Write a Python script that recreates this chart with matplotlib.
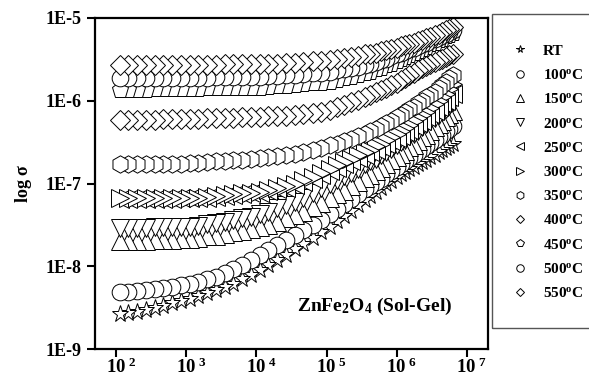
import numpy as np
import matplotlib
matplotlib.use("Agg")
import matplotlib.pyplot as plt
from matplotlib.patches import Rectangle
from matplotlib.ticker import FixedLocator, NullLocator

plt.rcParams['font.family'] = ['Liberation Serif', 'DejaVu Serif']
plt.rcParams['font.weight'] = 'bold'
plt.rcParams['mathtext.fontset'] = 'custom'
plt.rcParams['mathtext.rm'] = 'Liberation Serif:bold'
plt.rcParams['mathtext.bf'] = 'Liberation Serif:bold'
plt.rcParams['mathtext.it'] = 'Liberation Serif:bold'

# --- log10 of frequency (Hz) ---
log_f = [2.05, 2.17, 2.30, 2.42, 2.55, 2.67, 2.80, 2.92, 3.05, 3.17,
         3.30, 3.42, 3.55, 3.67, 3.80, 3.92, 4.05, 4.17, 4.30, 4.42,
         4.55, 4.67, 4.80, 4.92, 5.05, 5.15, 5.25, 5.35, 5.45, 5.55,
         5.62, 5.70, 5.77, 5.85, 5.92, 6.00, 6.06, 6.12, 6.18, 6.24,
         6.30, 6.36, 6.42, 6.48, 6.54, 6.60, 6.65, 6.70, 6.75, 6.80]

# --- log10 of conductivity for each temperature ---
s_rt = [-8.58, -8.57, -8.55, -8.53, -8.51, -8.48, -8.45, -8.42, -8.39, -8.36,
        -8.32, -8.29, -8.25, -8.21, -8.16, -8.11, -8.05, -7.99, -7.93, -7.86,
        -7.79, -7.73, -7.66, -7.59, -7.52, -7.45, -7.39, -7.33, -7.26, -7.20,
        -7.15, -7.10, -7.06, -7.01, -6.97, -6.92, -6.89, -6.86, -6.83, -6.80,
        -6.77, -6.74, -6.71, -6.68, -6.65, -6.62, -6.60, -6.57, -6.55, -6.52]
s_100 = [-8.31, -8.31, -8.30, -8.29, -8.28, -8.26, -8.25, -8.23, -8.21, -8.19,
         -8.16, -8.13, -8.08, -8.03, -7.98, -7.92, -7.86, -7.80, -7.74, -7.68,
         -7.62, -7.56, -7.50, -7.44, -7.37, -7.31, -7.25, -7.19, -7.13, -7.07,
         -7.03, -6.98, -6.94, -6.89, -6.85, -6.80, -6.76, -6.73, -6.69, -6.66,
         -6.62, -6.58, -6.55, -6.51, -6.48, -6.44, -6.41, -6.37, -6.34, -6.30]
s_150 = [-7.69, -7.69, -7.69, -7.69, -7.68, -7.68, -7.68, -7.67, -7.67, -7.66,
         -7.64, -7.63, -7.61, -7.59, -7.57, -7.55, -7.53, -7.50, -7.46, -7.42,
         -7.38, -7.34, -7.29, -7.23, -7.18, -7.13, -7.09, -7.03, -6.98, -6.93,
         -6.90, -6.85, -6.81, -6.77, -6.72, -6.68, -6.64, -6.61, -6.56, -6.53,
         -6.49, -6.44, -6.41, -6.37, -6.32, -6.28, -6.24, -6.20, -6.16, -6.12]
s_200 = [-7.54, -7.54, -7.54, -7.54, -7.53, -7.53, -7.53, -7.52, -7.52, -7.51,
         -7.49, -7.48, -7.46, -7.44, -7.42, -7.40, -7.37, -7.34, -7.30, -7.26,
         -7.22, -7.17, -7.12, -7.06, -7.01, -6.96, -6.91, -6.87, -6.82, -6.77,
         -6.73, -6.70, -6.66, -6.62, -6.58, -6.54, -6.50, -6.47, -6.43, -6.40,
         -6.36, -6.32, -6.28, -6.25, -6.21, -6.17, -6.13, -6.10, -6.06, -6.02]
s_250 = [-7.19, -7.19, -7.19, -7.19, -7.19, -7.19, -7.19, -7.18, -7.18, -7.18,
         -7.17, -7.16, -7.15, -7.14, -7.13, -7.12, -7.11, -7.09, -7.07, -7.05,
         -7.02, -6.98, -6.94, -6.90, -6.85, -6.81, -6.77, -6.73, -6.69, -6.65,
         -6.62, -6.59, -6.56, -6.52, -6.49, -6.45, -6.42, -6.38, -6.35, -6.31,
         -6.27, -6.24, -6.20, -6.16, -6.12, -6.07, -6.03, -6.00, -5.96, -5.92]
s_300 = [-7.18, -7.18, -7.18, -7.18, -7.18, -7.18, -7.18, -7.17, -7.17, -7.17,
         -7.16, -7.15, -7.14, -7.13, -7.12, -7.11, -7.10, -7.08, -7.06, -7.03,
         -7.00, -6.96, -6.92, -6.87, -6.82, -6.78, -6.74, -6.70, -6.66, -6.62,
         -6.59, -6.55, -6.52, -6.48, -6.44, -6.40, -6.37, -6.33, -6.29, -6.25,
         -6.21, -6.17, -6.13, -6.09, -6.04, -6.00, -5.96, -5.92, -5.86, -5.80]
s_350 = [-6.77, -6.77, -6.77, -6.77, -6.76, -6.76, -6.76, -6.76, -6.75, -6.75,
         -6.74, -6.73, -6.73, -6.72, -6.71, -6.70, -6.69, -6.68, -6.67, -6.66,
         -6.64, -6.62, -6.60, -6.57, -6.54, -6.52, -6.49, -6.46, -6.43, -6.40,
         -6.37, -6.34, -6.31, -6.27, -6.24, -6.20, -6.17, -6.14, -6.10, -6.07,
         -6.03, -6.00, -5.96, -5.93, -5.89, -5.84, -5.81, -5.77, -5.73, -5.69]
s_400 = [-6.23, -6.23, -6.23, -6.23, -6.23, -6.22, -6.22, -6.22, -6.22, -6.22,
         -6.21, -6.21, -6.21, -6.21, -6.20, -6.20, -6.20, -6.19, -6.19, -6.18,
         -6.17, -6.16, -6.15, -6.13, -6.11, -6.08, -6.05, -6.02, -5.99, -5.96,
         -5.93, -5.90, -5.87, -5.84, -5.81, -5.78, -5.75, -5.72, -5.69, -5.66,
         -5.63, -5.60, -5.58, -5.55, -5.53, -5.51, -5.49, -5.47, -5.45, -5.43]
s_450 = [-5.87, -5.87, -5.87, -5.87, -5.86, -5.86, -5.86, -5.86, -5.86, -5.86,
         -5.85, -5.85, -5.85, -5.85, -5.84, -5.84, -5.84, -5.83, -5.82, -5.82,
         -5.81, -5.80, -5.79, -5.78, -5.77, -5.75, -5.73, -5.71, -5.69, -5.67,
         -5.65, -5.62, -5.60, -5.57, -5.55, -5.52, -5.50, -5.47, -5.45, -5.42,
         -5.40, -5.37, -5.35, -5.32, -5.30, -5.27, -5.25, -5.22, -5.20, -5.18]
s_500 = [-5.72, -5.72, -5.72, -5.72, -5.72, -5.72, -5.72, -5.72, -5.72, -5.72,
         -5.72, -5.71, -5.71, -5.71, -5.71, -5.71, -5.71, -5.70, -5.70, -5.69,
         -5.69, -5.68, -5.67, -5.66, -5.65, -5.63, -5.62, -5.60, -5.59, -5.57,
         -5.55, -5.53, -5.51, -5.49, -5.46, -5.44, -5.42, -5.40, -5.38, -5.36,
         -5.34, -5.32, -5.30, -5.27, -5.25, -5.23, -5.21, -5.19, -5.17, -5.15]
s_550 = [-5.57, -5.57, -5.57, -5.57, -5.57, -5.57, -5.57, -5.57, -5.57, -5.57,
         -5.57, -5.57, -5.56, -5.56, -5.56, -5.56, -5.56, -5.55, -5.55, -5.54,
         -5.54, -5.53, -5.52, -5.52, -5.51, -5.50, -5.48, -5.47, -5.46, -5.44,
         -5.43, -5.42, -5.40, -5.39, -5.37, -5.36, -5.34, -5.33, -5.31, -5.30,
         -5.28, -5.26, -5.24, -5.23, -5.21, -5.19, -5.17, -5.15, -5.13, -5.11]

labels = ['RT', r'100$^{o}$C', r'150$^{o}$C', r'200$^{o}$C', r'250$^{o}$C',
          r'300$^{o}$C', r'350$^{o}$C', r'400$^{o}$C', r'450$^{o}$C',
          r'500$^{o}$C', r'550$^{o}$C']
series = [s_rt, s_100, s_150, s_200, s_250, s_300, s_350, s_400, s_450, s_500, s_550]
markers = ['*', 'o', '^', 'v', '<', '>', 'h', 'D', 'p', 'o', 'D']
sizes = [12.5, 12, 12.5, 12.5, 12.5, 12.5, 12.5, 10, 12.5, 12, 10]

freq = 10.0 ** np.array(log_f)

fig = plt.figure(figsize=(5.89, 3.80), dpi=100)
ax = fig.add_axes([95/589, 31/380, 393/589, 331/380])

for s, m, ms, lab in zip(series, markers, sizes, labels):
    sig = 10.0 ** np.array(s)
    # draw high -> low frequency so low-frequency markers sit on top
    ax.plot(freq[::-1], sig[::-1], linestyle='none', marker=m, markersize=ms,
            markerfacecolor='white', markeredgecolor='black',
            markeredgewidth=0.7, label=lab)

ax.set_xscale('log')
ax.set_yscale('log')
ax.set_xlim(10**1.7, 10**7.3)
ax.set_ylim(1e-9, 1e-5)

xt = [1e2, 1e3, 1e4, 1e5, 1e6, 1e7]
ax.xaxis.set_major_locator(FixedLocator(xt))
ax.xaxis.set_minor_locator(NullLocator())
# leading spaces balance the exponent so "10" sits under the tick
ax.set_xticklabels([r'$\mathbf{\ \ 10^{\ %d}}$' % k for k in range(2, 8)])
yt = [1e-9, 1e-8, 1e-7, 1e-6, 1e-5]
ax.yaxis.set_major_locator(FixedLocator(yt))
ax.yaxis.set_minor_locator(NullLocator())
ax.set_yticklabels(['1E-9', '1E-8', '1E-7', '1E-6', '1E-5'])

ax.tick_params(axis='both', direction='out', length=6, width=1.5, labelsize=13)
ax.tick_params(axis='x', pad=0, labelsize=13.5)
ax.tick_params(axis='y', pad=4)
for sp in ax.spines.values():
    sp.set_linewidth(1.6)

ax.set_ylabel(r'log $\mathbf{\sigma}$', fontsize=13, fontweight='bold', labelpad=8)
ax.text(0.515, 0.13, r'ZnFe$_{2}$O$_{4}$ (Sol-Gel)', transform=ax.transAxes,
        fontsize=14, fontweight='bold', ha='left', va='center')

# --- legend box on the right ---
fig.add_artist(Rectangle((492/589, 52/380), 0.2, 314/380, transform=fig.transFigure,
                         fill=False, edgecolor='#555555', linewidth=1.0, clip_on=False))
leg = fig.legend(loc='upper left', bbox_to_anchor=(505/589, 1 - 38/380),
                 frameon=False, markerscale=0.45,
                 handlelength=1.2, handletextpad=0.9, labelspacing=0.67,
                 borderaxespad=0, prop={'weight': 'bold', 'size': 11})

plt.savefig('out.png', dpi=100)
